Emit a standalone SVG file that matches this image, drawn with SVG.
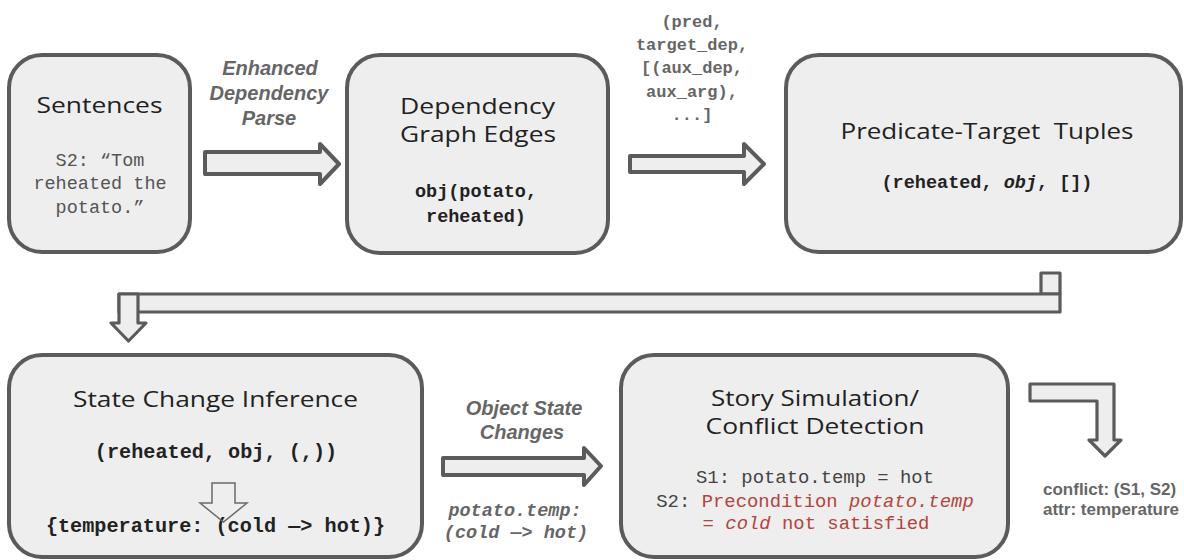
<svg xmlns="http://www.w3.org/2000/svg" width="1184" height="560" viewBox="0 0 1184 560">
<style>
.box{fill:#eeeeee;stroke:#5b5b5b;stroke-width:4}
.arr{fill:#eeeeee;stroke:#5b5b5b;stroke-width:4;stroke-linejoin:round}
.arr3{fill:#eeeeee;stroke:#5b5b5b;stroke-width:3.2;stroke-linejoin:round}
.title{font-family:"Open Sans","DejaVu Sans",sans-serif;font-size:22px;fill:#222;text-anchor:middle}
.mono{font-family:"Liberation Mono","Courier New",monospace;text-anchor:middle}
.lbl{font-family:"Liberation Sans",Arial,sans-serif;font-weight:bold;font-style:italic;font-size:20px;fill:#666;text-anchor:middle}
.red{fill:#b5443a}
</style>

<g id="connectors">
  <!-- Sentences -> Dependency Graph Edges -->
  <polygon class="arr" points="205,152 320,152 320,144 339,164 320,184 320,174 205,174"/>
  <!-- Dependency Graph Edges -> Predicate-Target Tuples -->
  <polygon class="arr" points="630,156 744,156 744,144 764,164 744,184 744,172 630,172"/>
  <!-- Predicate-Target Tuples -> State Change Inference (elbow) -->
  <rect class="arr3" x="1041" y="273" width="19" height="21"/>
  <rect class="arr3" x="119" y="294" width="941" height="18"/>
  <polygon class="arr3" points="119,294 138,294 138,323 146,323 128.5,341 111,323 119,323"/>
  <!-- State Change Inference -> Story Simulation -->
  <polygon class="arr" points="443,458 584,458 584,448 601,466 584,485 584,475 443,475"/>
  <!-- Story Simulation -> conflict output -->
  <polygon class="arr3" points="1030,384 1114,384 1114,440 1121,440 1105,456 1089,440 1097,440 1097,401 1030,401"/>
  <!-- edge labels -->
  <text class="lbl" x="270" y="75">Enhanced</text>
  <text class="lbl" x="269" y="100">Dependency</text>
  <text class="lbl" x="269" y="125">Parse</text>
  <g class="mono" font-weight="bold" font-size="17px" fill="#666">
    <text x="692" y="27">(pred,</text>
    <text x="692" y="50">target_dep,</text>
    <text x="692" y="73">[(aux_dep,</text>
    <text x="692" y="97">aux_arg),</text>
    <text x="692" y="120">...]</text>
  </g>
  <text class="lbl" x="524" y="415">Object State</text>
  <text class="lbl" x="522" y="439">Changes</text>
  <g class="mono" font-weight="bold" font-style="italic" font-size="18.5px" fill="#666">
    <text x="515" y="516">potato.temp:</text>
    <text x="516" y="538">(cold —&gt; hot)</text>
  </g>
  <g font-family="Liberation Sans, Arial, sans-serif" font-weight="bold" font-size="17px" fill="#666">
    <text x="1043" y="495">conflict: (S1, S2)</text>
    <text x="1043" y="515">attr: temperature</text>
  </g>
</g>

<g id="sentences">
  <rect class="box" x="9" y="55" width="181" height="197" rx="33"/>
  <text class="title" x="99.5" y="113" textLength="126" lengthAdjust="spacingAndGlyphs">Sentences</text>
  <g class="mono" font-size="18.5px" fill="#555">
    <text x="100" y="166">S2: “Tom</text>
    <text x="100" y="189">reheated the</text>
    <text x="100" y="213">potato.”</text>
  </g>
</g>

<g id="dependency-graph-edges">
  <rect class="box" x="347" y="55" width="261" height="198" rx="33"/>
  <text class="title" x="477.5" y="114" textLength="155" lengthAdjust="spacingAndGlyphs">Dependency</text>
  <text class="title" x="478" y="142" textLength="156" lengthAdjust="spacingAndGlyphs">Graph Edges</text>
  <g class="mono" font-weight="bold" font-size="18.5px" fill="#222">
    <text x="476" y="197">obj(potato,</text>
    <text x="476" y="222">reheated)</text>
  </g>
</g>

<g id="predicate-target-tuples">
  <rect class="box" x="786" y="55" width="395" height="197" rx="33"/>
  <text class="title" x="987" y="139" textLength="293" lengthAdjust="spacingAndGlyphs" xml:space="preserve">Predicate-Target  Tuples</text>
  <text class="mono" x="987" y="188" font-weight="bold" font-size="18.5px" fill="#222">(reheated, <tspan font-style="italic">obj</tspan>, [])</text>
</g>

<g id="state-change-inference">
  <rect class="box" x="9" y="355" width="413" height="202" rx="33"/>
  <text class="title" x="215.5" y="407" textLength="285" lengthAdjust="spacingAndGlyphs">State Change Inference</text>
  <text class="mono" x="216" y="458" font-weight="bold" font-size="20.2px" fill="#222">(reheated, obj, (,))</text>
  <text class="mono" x="215.5" y="532" font-weight="bold" font-size="20.2px" fill="#222">{temperature: (cold —&gt; hot)}</text>
  <polygon points="212,483 235,483 235,503 247,503 223.5,522 200,503 212,503" fill="none" stroke="#6a6a6a" stroke-width="1.5"/>
</g>

<g id="story-simulation">
  <rect class="box" x="621" y="355" width="387" height="202" rx="33"/>
  <text class="title" x="815" y="406" textLength="208" lengthAdjust="spacingAndGlyphs">Story Simulation/</text>
  <text class="title" x="815" y="434" textLength="219" lengthAdjust="spacingAndGlyphs">Conflict Detection</text>
  <g class="mono" font-size="18.9px" fill="#444">
    <text x="815" y="483">S1: potato.temp = hot</text>
    <text x="815" y="507">S2: <tspan class="red">Precondition <tspan font-style="italic">potato.temp</tspan></tspan></text>
    <text x="816" y="529" class="red">= <tspan font-style="italic">cold</tspan> not satisfied</text>
  </g>
</g>
</svg>
